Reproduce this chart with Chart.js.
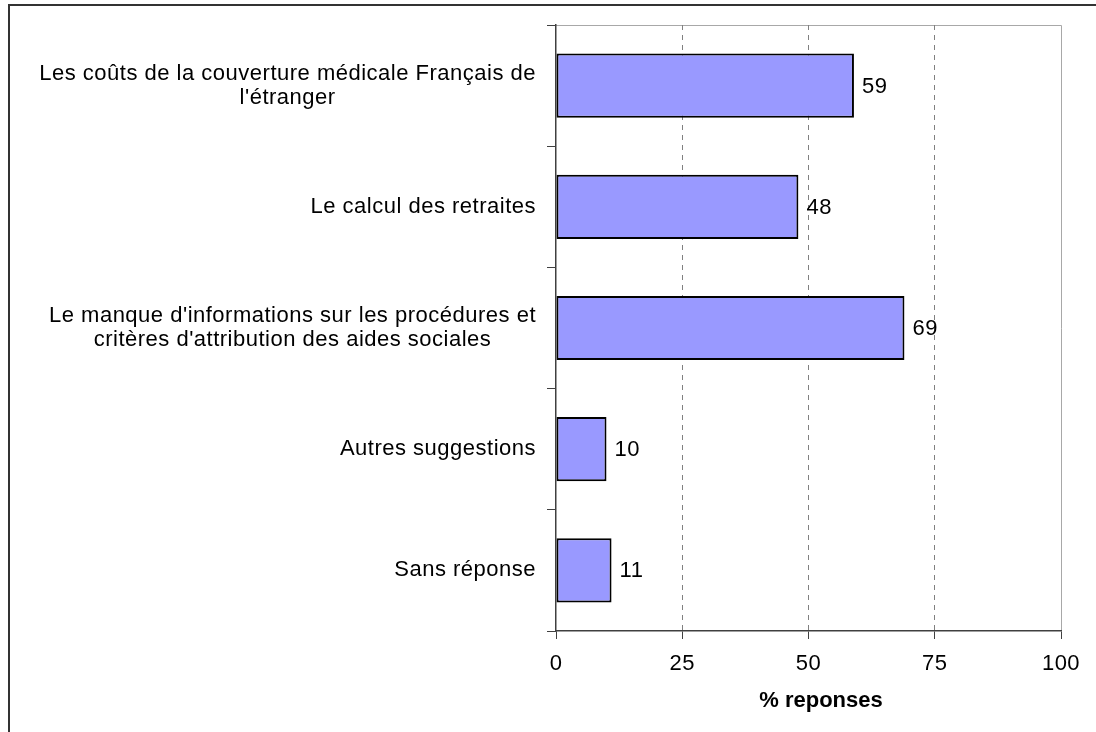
<!DOCTYPE html>
<html>
<head>
<meta charset="utf-8">
<script src="https://cdn.jsdelivr.net/npm/chart.js@4"></script>
<style>
  html, body { margin: 0; padding: 0; background: #fff; }
  #wrap { width: 1096px; height: 732px; }
</style>
</head>
<body>
<div id="wrap"><canvas id="chart" width="1096" height="732"></canvas></div>
<script>
// data
const categories = [
    ["Les coûts de la couverture médicale Français de", "l'étranger"],
    "Le calcul des retraites",
    ["Le manque d'informations sur les procédures et", "critères d'attribution des aides sociales"],
    "Autres suggestions",
    "Sans réponse"
];
const values = [59, 48, 69, 10, 11];
const xTicks = [0, 25, 50, 75, 100];
const xTitle = '% reponses';

const FONT = 'Liberation Sans, Arial, sans-serif';
const FS = 22;

// background, outer frame and plot frame (also sets the loose Excel-like letter spacing)
const framePlugin = {
    id: 'frame',
    beforeDraw(chart) {
        const { ctx, chartArea: a } = chart;
        ctx.letterSpacing = '0.5px';
        ctx.save();
        ctx.fillStyle = '#fff';
        ctx.fillRect(0, 0, chart.width, chart.height);
        ctx.strokeStyle = '#333';
        ctx.lineWidth = 2;
        ctx.beginPath();
        ctx.moveTo(9, chart.height);
        ctx.lineTo(9, 5);
        ctx.lineTo(chart.width, 5);
        ctx.stroke();
        ctx.strokeStyle = '#a8a8a8';
        ctx.lineWidth = 1;
        ctx.beginPath();
        ctx.moveTo(a.left, a.top + 0.5);
        ctx.lineTo(a.right + 0.5, a.top + 0.5);
        ctx.lineTo(a.right + 0.5, a.bottom);
        ctx.stroke();
        ctx.restore();
    }
};

// category labels (block right-aligned to the axis, lines centred inside it) and axis title
const axisText = {
    id: 'axisText',
    afterDraw(chart) {
        const { ctx } = chart;
        const y = chart.scales.y;
        const right = chart.chartArea.left - 20;
        const lh = 24;
        ctx.save();
        ctx.font = FS + 'px ' + FONT;
        ctx.fillStyle = '#000';
        ctx.textAlign = 'center';
        ctx.textBaseline = 'middle';
        categories.forEach((c, i) => {
            const lines = Array.isArray(c) ? c : [c];
            const w = Math.max(...lines.map(l => ctx.measureText(l).width));
            const cx = right - w / 2;
            const cy = y.getPixelForTick(i);
            lines.forEach((l, j) => {
                ctx.fillText(l, cx, cy + (j - (lines.length - 1) / 2) * lh);
            });
        });
        ctx.letterSpacing = '0px';
        ctx.font = 'bold ' + FS + 'px ' + FONT;
        ctx.fillText(xTitle, chart.chartArea.left + 265, 701);
        ctx.restore();
    }
};

// value next to the end of each bar
const valueLabels = {
    id: 'valueLabels',
    afterDatasetsDraw(chart) {
        const { ctx } = chart;
        const meta = chart.getDatasetMeta(0);
        ctx.save();
        ctx.font = FS + 'px ' + FONT;
        ctx.fillStyle = '#000';
        ctx.textAlign = 'left';
        ctx.textBaseline = 'middle';
        meta.data.forEach((bar, i) => {
            ctx.fillText(String(values[i]), bar.x + 8, bar.y + 1);
        });
        ctx.restore();
    }
};

new Chart(document.getElementById('chart'), {
    type: 'bar',
    data: {
        labels: categories,
        datasets: [{
            data: values,
            backgroundColor: '#9999ff',
            borderColor: '#000',
            borderWidth: 2,
            borderSkipped: false,
            barPercentage: 0.53,
            categoryPercentage: 1
        }]
    },
    options: {
        indexAxis: 'y',
        responsive: false,
        animation: false,
        layout: { padding: { left: 10, right: 35, top: 25, bottom: 0 } },
        plugins: { legend: { display: false }, tooltip: { enabled: false } },
        scales: {
            x: {
                min: 0,
                max: 100,
                afterBuildTicks(s) { s.ticks = xTicks.map(v => ({ value: v })); },
                afterFit(s) { s.height = 101; },
                ticks: { color: '#000', font: { family: FONT, size: FS }, padding: 12, maxRotation: 0 },
                grid: {
                    color: ctx => (ctx.tick && ctx.tick.value > 0 && ctx.tick.value < 100) ? '#808080' : 'rgba(0,0,0,0)',
                    lineWidth: 1,
                    tickColor: '#404040',
                    tickLength: 8,
                    tickBorderDash: []
                },
                border: { display: true, color: '#404040', width: 1.5, dash: [5, 5] },
                title: { display: false }
            },
            y: {
                afterFit(s) { s.width = 546; },
                ticks: { display: false },
                grid: {
                    offset: true,
                    drawOnChartArea: false,
                    drawTicks: true,
                    tickLength: 9,
                    color: '#404040',
                    tickColor: '#404040'
                },
                border: { display: true, color: '#404040', width: 1.5 }
            }
        }
    },
    plugins: [framePlugin, axisText, valueLabels]
});
</script>
</body>
</html>
